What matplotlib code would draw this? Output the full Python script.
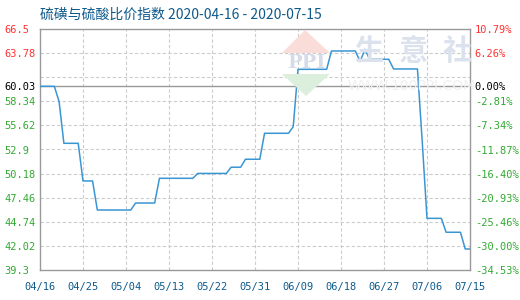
import matplotlib
matplotlib.use('Agg')
import matplotlib.pyplot as plt
import matplotlib.dates as mdates
from matplotlib.patches import Polygon
import pandas as pd

# price index turning points (flat stretches carry both end dates)
dates = ['2020-04-16', '2020-04-19', '2020-04-20', '2020-04-21', '2020-04-24',
         '2020-04-25', '2020-04-27', '2020-04-28', '2020-05-05', '2020-05-06',
         '2020-05-10', '2020-05-11', '2020-05-18', '2020-05-19', '2020-05-25',
         '2020-05-26', '2020-05-28', '2020-05-29', '2020-06-01', '2020-06-02',
         '2020-06-07', '2020-06-08', '2020-06-09', '2020-06-15', '2020-06-16',
         '2020-06-21', '2020-06-22', '2020-06-23', '2020-06-24', '2020-06-28',
         '2020-06-29', '2020-07-04', '2020-07-05', '2020-07-06', '2020-07-09',
         '2020-07-10', '2020-07-13', '2020-07-14', '2020-07-15']
values = [60.03, 60.03, 58.3, 53.6, 53.6,
          49.35, 49.35, 46.07, 46.07, 46.86,
          46.86, 49.65, 49.65, 50.2, 50.2,
          50.9, 50.9, 51.8, 51.8, 54.73,
          54.73, 55.47, 61.95, 61.95, 64.02,
          64.02, 62.83, 64.21, 63.08, 63.08,
          61.99, 61.99, 53.8, 45.13, 45.13,
          43.56, 43.56, 41.67, 41.67]

base = 60.03
y_min, y_max = 39.3, 66.5
grid_levels = [42.02, 44.74, 47.46, 50.18, 52.9, 55.62, 58.34, 61.06, 63.78]
left_ticks = [39.3, 42.02, 44.74, 47.46, 50.18, 52.9, 55.62, 58.34, 60.03, 63.78, 66.5]
left_labels = ['39.3', '42.02', '44.74', '47.46', '50.18', '52.9', '55.62',
               '58.34', '60.03', '63.78', '66.5']
right_labels = ['-34.53%', '-30.00%', '-25.46%', '-20.93%', '-16.40%', '-11.87%',
                '-7.34%', '-2.81%', '0.00%', '6.26%', '10.79%']
x_ticks = ['2020-04-16', '2020-04-25', '2020-05-04', '2020-05-13', '2020-05-22',
           '2020-05-31', '2020-06-09', '2020-06-18', '2020-06-27', '2020-07-06',
           '2020-07-15']

RED = '#ff3333'
GREEN = '#33aa33'
BLUE_TXT = '#0e5a8c'
LINE = '#3a96d2'
FRAME = '#999999'
CJK = ['Noto Sans CJK SC', 'DejaVu Sans']


def tick_color(v):
    if abs(v - base) < 1e-6:
        return 'black'
    return RED if v > base else GREEN


fig = plt.figure(figsize=(5.2, 3.0), dpi=100)
ax = fig.add_axes([40 / 520, 30 / 300, 430 / 520, 241 / 300])

x = pd.to_datetime(dates)
xt = pd.to_datetime(x_ticks)

# watermark behind the plot
for cx, ch in zip([369, 413, 457], '生意社'):
    fig.text(cx / 520, 1 - 51 / 300, ch, fontsize=21, color='#dce2ed',
             ha='center', va='center', family=CJK, fontweight='bold', zorder=0)
fig.text(412 / 520, 1 - 86 / 300, 'WWW.100PPI.COM', fontsize=10, color='#f0f0f0',
         ha='center', va='center', family='DejaVu Sans', zorder=0)
fig.patches.append(Polygon([[282 / 520, 1 - 53 / 300], [305 / 520, 1 - 30 / 300],
                            [330 / 520, 1 - 53 / 300]], closed=True,
                           transform=fig.transFigure, fc='#fadcd8', ec='none', zorder=0))
fig.patches.append(Polygon([[282 / 520, 1 - 74 / 300], [330 / 520, 1 - 74 / 300],
                            [306 / 520, 1 - 96 / 300]], closed=True,
                           transform=fig.transFigure, fc='#dcefdc', ec='none', zorder=0))
fig.text(306 / 520, 1 - 63 / 300, 'PPI', fontsize=14, color='#d5dbe8', ha='center',
         va='center', family='DejaVu Serif', fontweight='bold', zorder=0)
ax.patch.set_alpha(0)

for g in grid_levels:
    ax.axhline(g, color='#cccccc', lw=0.8, ls=(0, (3, 2)), zorder=1)
for t in xt[1:-1]:
    ax.axvline(t, color='#cccccc', lw=0.8, ls=(0, (3, 2)), zorder=1)
ax.axhline(base, color=FRAME, lw=1.0, zorder=2)

ax.plot(x, values, color=LINE, lw=1.1, zorder=3)

ax.set_xlim(xt[0], xt[-1])
ax.set_ylim(y_min, y_max)
for s in ax.spines.values():
    s.set_color(FRAME)
    s.set_linewidth(1.0)

ax.set_xticks(xt)
ax.xaxis.set_major_formatter(mdates.DateFormatter('%m/%d'))
ax.tick_params(axis='x', length=0, pad=8.5, labelsize=7.5, labelcolor=BLUE_TXT)
for lab in ax.get_xticklabels():
    lab.set_family('DejaVu Sans Mono')

ax.set_yticks(left_ticks)
ax.set_yticklabels(left_labels)
ax.tick_params(axis='y', length=0, pad=25.5, labelsize=7.5)
for lab, v in zip(ax.get_yticklabels(), left_ticks):
    lab.set_horizontalalignment('left')
    lab.set_family('DejaVu Sans Mono')
    lab.set_color(tick_color(v))

ax2 = ax.twinx()
ax2.set_ylim(y_min, y_max)
ax2.set_yticks(left_ticks)
ax2.set_yticklabels(right_labels)
ax2.tick_params(axis='y', length=0, pad=3.5, labelsize=7.5)
for s in ax2.spines.values():
    s.set_visible(False)
for lab, v in zip(ax2.get_yticklabels(), left_ticks):
    lab.set_family('DejaVu Sans Mono')
    lab.set_color(tick_color(v))

fig.text(40 / 520, 1 - 15 / 300, '硫磺与硫酸比价指数 2020-04-16 - 2020-07-15',
         fontsize=10, color=BLUE_TXT, ha='left', va='center', family=CJK)

fig.savefig('out.png', dpi=100)
